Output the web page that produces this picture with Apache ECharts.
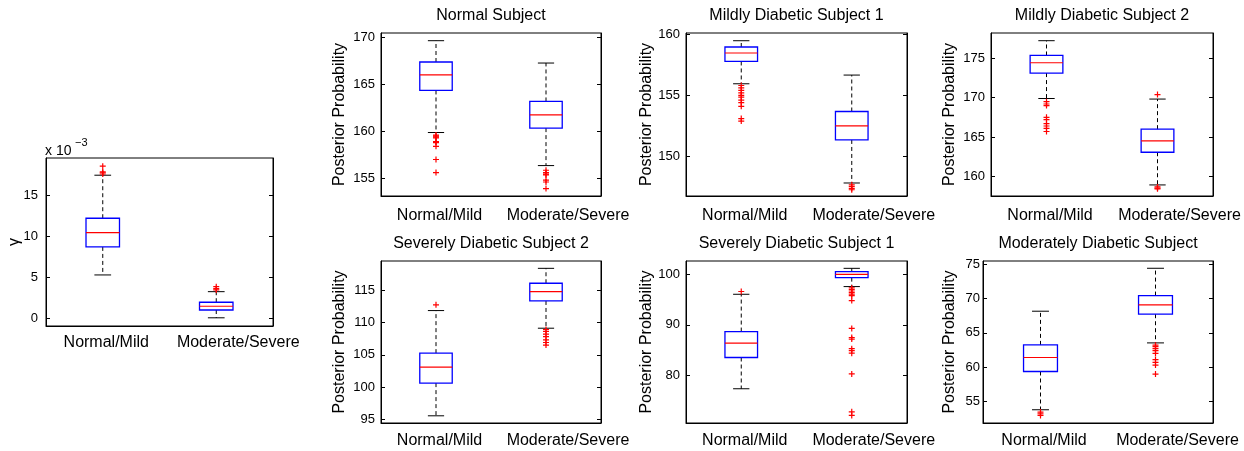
<!DOCTYPE html>
<html>
<head>
<meta charset="utf-8">
<script src="https://cdn.jsdelivr.net/npm/echarts@6/dist/echarts.min.js"></script>
<style>html,body{margin:0;padding:0;background:#fff}#c{width:1244px;height:451px}</style>
</head>
<body>
<div id="c"></div>
<script>
// ---------- data ----------
const categories = ['Normal/Mild', 'Moderate/Severe'];

// box stats per group: [lower whisker, Q1, median, Q3, upper whisker]
const gammaStats = [[5.28, 8.7, 10.45, 12.2, 17.45], [0.05, 1.0, 1.46, 1.95, 3.24]]; // x 10^-3
const gammaOutliers = [[17.6, 17.75, 17.85, 18.55], [3.45, 3.6, 3.85]];

const normalStats = [[159.87, 164.35, 166.02, 167.38, 169.65], [156.35, 160.34, 161.76, 163.18, 167.27]];
const normalOutliers = [[159.6, 159.5, 159.4, 159.3, 158.9, 158.8, 158.4, 157.0, 155.6],
                        [155.85, 155.6, 155.45, 155.35, 154.8, 154.6, 153.9]];

const mild1Stats = [[155.94, 157.76, 158.45, 158.94, 159.45], [147.85, 151.36, 152.51, 153.68, 156.65]];
const mild1Outliers = [[155.8, 155.6, 155.4, 155.2, 155.0, 154.85, 154.6, 154.4, 154.1, 153.1, 152.9],
                       [147.7, 147.55, 147.4, 147.3]];

const mild2Stats = [[169.9, 173.14, 174.45, 175.38, 177.26], [158.9, 163.06, 164.5, 166.0, 169.83]];
const mild2Outliers = [[169.5, 169.2, 169.0, 167.5, 167.2, 166.7, 166.4, 166.1, 165.7],
                       [170.4, 158.65, 158.5, 158.4]];

const severe2Stats = [[95.6, 100.64, 103.1, 105.26, 111.82], [109.1, 113.3, 114.74, 116.03, 118.33]];
const severe2Outliers = [[112.7], [108.9, 108.6, 108.2, 107.8, 107.3, 106.9, 106.5]];

const severe1Stats = [[77.37, 83.55, 86.38, 88.68, 96.05], [97.57, 99.34, 100.0, 100.53, 101.18]];
const severe1Outliers = [[96.6],
                         [97.3, 97.0, 96.7, 96.4, 96.1, 95.8, 94.8, 89.3, 87.5, 87.2, 85.3, 84.9, 84.4, 80.3, 72.8, 72.1]];

const moderateStats = [[53.79, 59.37, 61.41, 63.25, 68.16], [63.54, 67.72, 69.08, 70.44, 74.42]];
const moderateOutliers = [[53.45, 53.2, 52.95], [63.2, 63.0, 62.7, 62.4, 62.0, 61.1, 60.7, 60.3, 59.0]];

// tick labels and axis limits
const gammaTicks = [0, 5, 10, 15];
const normalTicks = [155, 160, 165, 170];
const mild1Ticks = [150, 155, 160];
const mild2Ticks = [160, 165, 170, 175];
const severe2Ticks = [95, 100, 105, 110, 115];
const severe1Ticks = [80, 90, 100];
const moderateTicks = [55, 60, 65, 70, 75];

const gammaRange = [-0.95, 19.55];
const normalRange = [153.11, 170.47];
const mild1Range = [146.79, 160.08];
const mild2Range = [157.49, 178.24];
const severe2Range = [94.49, 119.46];
const severe1Range = [70.6, 102.63];
const moderateRange = [51.86, 75.48];

const panelTitles = ['', 'Normal Subject', 'Mildly Diabetic Subject 1', 'Mildly Diabetic Subject 2',
                     'Severely Diabetic Subject 2', 'Severely Diabetic Subject 1', 'Moderately Diabetic Subject'];
const yNames = ['\u03b3', 'Posterior Probability', 'Posterior Probability', 'Posterior Probability',
                'Posterior Probability', 'Posterior Probability', 'Posterior Probability'];

// ---------- layout ----------
const FONT = '"Liberation Sans", Arial, Helvetica, sans-serif';
const layout = [
  {left: 46, top: 158, width: 227, height: 168, gap: 23, lm: 8, xm: 9, ty: null},
  {left: 381, top: 33, width: 220, height: 163, gap: 33, lm: 6, xm: 12, ty: 15.4},
  {left: 686, top: 33, width: 221, height: 163, gap: 31.5, lm: 6, xm: 12, ty: 15.4},
  {left: 991, top: 33, width: 222, height: 163, gap: 33, lm: 6, xm: 12, ty: 15.4},
  {left: 381, top: 261, width: 220, height: 162, gap: 33, lm: 6, xm: 10, ty: 243.7},
  {left: 686, top: 261, width: 221, height: 162, gap: 31.5, lm: 6, xm: 10, ty: 243.7},
  {left: 983, top: 261, width: 230, height: 162, gap: 25, lm: 3, xm: 10, ty: 243.7}
];

const panels = [
  {stats: gammaStats, out: gammaOutliers, ticks: gammaTicks, range: gammaRange},
  {stats: normalStats, out: normalOutliers, ticks: normalTicks, range: normalRange},
  {stats: mild1Stats, out: mild1Outliers, ticks: mild1Ticks, range: mild1Range},
  {stats: mild2Stats, out: mild2Outliers, ticks: mild2Ticks, range: mild2Range},
  {stats: severe2Stats, out: severe2Outliers, ticks: severe2Ticks, range: severe2Range},
  {stats: severe1Stats, out: severe1Outliers, ticks: severe1Ticks, range: severe1Range},
  {stats: moderateStats, out: moderateOutliers, ticks: moderateTicks, range: moderateRange}
];

const plusSymbol = 'path://M3.2,0H4.8V3.2H8V4.8H4.8V8H3.2V4.8H0V3.2H3.2Z';

// category labels: text starts ~39px left of the box centre (as in the reference)
const catLabelStyle = {color: '#000', fontSize: 16, fontFamily: FONT};
const catRich = {
  c0: Object.assign({padding: [0, 0, 0, 7]}, catLabelStyle),
  c1: Object.assign({padding: [0, 0, 0, 44]}, catLabelStyle)
};

function renderBox(params, api) {
  const idx = api.value(0);
  const lo = api.coord([idx, api.value(1)]);
  const q1 = api.coord([idx, api.value(2)]);
  const md = api.coord([idx, api.value(3)]);
  const q3 = api.coord([idx, api.value(4)]);
  const hi = api.coord([idx, api.value(5)]);
  const band = api.size([1, 0])[0];
  const bw = band * 0.295, cw = bw * 0.5;
  const cx = lo[0];
  const black = {stroke: '#000', lineWidth: 1};
  return {
    type: 'group',
    children: [
      {type: 'line', shape: {x1: cx, y1: q3[1], x2: cx, y2: hi[1]}, style: {stroke: '#000', lineWidth: 1, lineDash: [4, 3]}},
      {type: 'line', shape: {x1: cx, y1: q1[1], x2: cx, y2: lo[1]}, style: {stroke: '#000', lineWidth: 1, lineDash: [4, 3]}},
      {type: 'line', shape: {x1: cx - cw / 2, y1: hi[1], x2: cx + cw / 2, y2: hi[1]}, style: black},
      {type: 'line', shape: {x1: cx - cw / 2, y1: lo[1], x2: cx + cw / 2, y2: lo[1]}, style: black},
      {type: 'rect', shape: {x: cx - bw / 2, y: q3[1], width: bw, height: q1[1] - q3[1]}, style: {fill: 'none', stroke: '#0000ff', lineWidth: 1.3}},
      {type: 'line', shape: {x1: cx - bw / 2, y1: md[1], x2: cx + bw / 2, y2: md[1]}, style: {stroke: '#ff0000', lineWidth: 1.2}}
    ]
  };
}

const grid = [], xAxis = [], yAxis = [], series = [], graphic = [];
panels.forEach((p, i) => {
  const L = layout[i];
  grid.push({left: L.left, top: L.top, width: L.width, height: L.height, show: true,
             borderColor: '#000', borderWidth: 1, backgroundColor: '#fff', containLabel: false});
  xAxis.push({type: 'category', gridIndex: i, data: categories, boundaryGap: true,
              axisLine: {show: true, onZero: false, lineStyle: {color: '#000'}}, axisTick: {show: false},
              axisLabel: {color: '#000', fontSize: 16, fontFamily: FONT, margin: L.xm, interval: 0,
                          formatter: (v, idx) => '{c' + idx + '|' + v + '}', rich: catRich},
              splitLine: {show: false}});
  const common = {type: 'value', gridIndex: i, min: p.range[0], max: p.range[1],
                  splitLine: {show: false}, axisLine: {show: true, lineStyle: {color: '#000'}}};
  yAxis.push(Object.assign({}, common, {
    position: 'left', name: yNames[i], nameLocation: 'middle', nameGap: L.gap, nameRotate: 90,
    nameMoveOverlap: false,
    nameTextStyle: {color: '#000', fontSize: 16, fontFamily: FONT},
    axisTick: {show: true, inside: true, length: 4, customValues: p.ticks, lineStyle: {color: '#000'}},
    axisLabel: {color: '#000', fontSize: 13, fontFamily: FONT, margin: L.lm, customValues: p.ticks}
  }));
  yAxis.push(Object.assign({}, common, {
    position: 'right',
    axisTick: {show: true, inside: true, length: 4, customValues: p.ticks, lineStyle: {color: '#000'}},
    axisLabel: {show: false, customValues: p.ticks}
  }));
  series.push({
    type: 'custom', xAxisIndex: i, yAxisIndex: 2 * i, renderItem: renderBox, silent: true,
    encode: {x: 0, y: [1, 2, 3, 4, 5]},
    data: p.stats.map((s, k) => [k].concat(s))
  });
  const pts = [];
  p.out.forEach((arr, k) => arr.forEach(v => pts.push([k, v])));
  series.push({
    type: 'scatter', xAxisIndex: i, yAxisIndex: 2 * i, symbol: plusSymbol, symbolSize: 6,
    itemStyle: {color: '#ff0000', opacity: 1}, silent: true, data: pts, z: 5
  });
  if (panelTitles[i]) {
    graphic.push({type: 'text', x: L.left + L.width / 2, y: L.ty,
      style: {text: panelTitles[i], fill: '#000', fontSize: 16, fontFamily: FONT, align: 'center', verticalAlign: 'middle'}});
  }
});
graphic.push({type: 'text', x: 45, y: 151.5,
  style: {text: 'x 10', fill: '#000', fontSize: 14, fontFamily: FONT, align: 'left', verticalAlign: 'middle'}});
graphic.push({type: 'text', x: 75, y: 142.5,
  style: {text: '\u22123', fill: '#000', fontSize: 11, fontFamily: FONT, align: 'left', verticalAlign: 'middle'}});

const chart = echarts.init(document.getElementById('c'), null, {renderer: 'canvas'});
chart.setOption({
  backgroundColor: '#fff',
  animation: false,
  grid, xAxis, yAxis, series, graphic
});
</script>
</body>
</html>
